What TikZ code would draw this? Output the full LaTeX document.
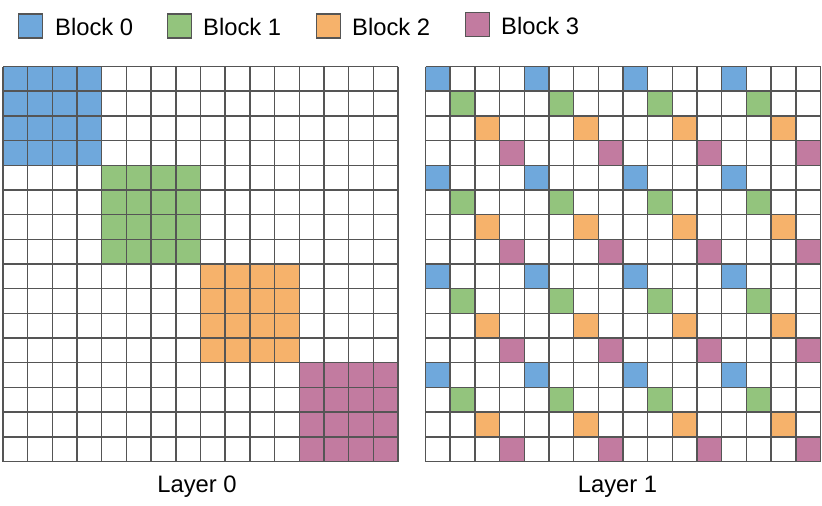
\documentclass[tikz,border=0pt]{standalone}
\usepackage{fontspec}
\setmainfont{Liberation Sans}
\definecolor{cA}{HTML}{6FA8DC}
\definecolor{cB}{HTML}{93C47D}
\definecolor{cC}{HTML}{F6B26B}
\definecolor{cD}{HTML}{C27BA0}
\definecolor{gridc}{HTML}{555555}
\begin{document}
\begin{tikzpicture}[x=1pt,y=-1pt,
  gridline/.style={draw=gridc,line width=1.4pt},
  legbox/.style={draw=gridc,line width=1.4pt,minimum width=24pt,minimum height=24pt,inner sep=0pt},
  legtext/.style={anchor=base west,font=\fontsize{23.8}{27}\selectfont,inner sep=0pt},
  caption/.style={anchor=base,font=\fontsize{23.8}{27}\selectfont,inner sep=0pt}]
\useasboundingbox (0,0) rectangle (822,506);
\def\cs{24.6875}
% legend
\node[legbox,fill=cA] (l0) at (30.5,26) {};
\node[legtext] (t0) at (55,35.5) {Block 0};
\node[legbox,fill=cB] (l1) at (179.5,26) {};
\node[legtext] (t1) at (203,35.5) {Block 1};
\node[legbox,fill=cC] (l2) at (328.5,26) {};
\node[legtext] (t2) at (352,35.5) {Block 2};
\node[legbox,fill=cD] (l3) at (477.5,24.5) {};
\node[legtext] (t3) at (501,34.5) {Block 3};
% layer 0
\begin{scope}[shift={(3,66.5)}]
\foreach \b/\c in {0/cA,1/cB,2/cC,3/cD}
  \fill[\c] ({4*\b*\cs},{4*\b*\cs}) rectangle ({(4*\b+4)*\cs},{(4*\b+4)*\cs});
\foreach \i in {0,...,16}{
  \draw[gridline] ({\i*\cs},0) -- ({\i*\cs},{16*\cs});
  \draw[gridline] (0,{\i*\cs}) -- ({16*\cs},{\i*\cs});
}
\end{scope}
% layer 1
\begin{scope}[shift={(425.5,66.5)}]
\foreach \r in {0,...,15}{
  \foreach \k in {0,...,3}{
    \pgfmathtruncatemacro{\m}{mod(\r,4)}
    \pgfmathtruncatemacro{\cc}{\m+4*\k}
    \ifcase\m \def\col{cA}\or \def\col{cB}\or \def\col{cC}\or \def\col{cD}\fi
    \fill[\col] ({\cc*\cs},{\r*\cs}) rectangle ({(\cc+1)*\cs},{(\r+1)*\cs});
  }
}
\foreach \i in {0,...,16}{
  \draw[gridline] ({\i*\cs},0) -- ({\i*\cs},{16*\cs});
  \draw[gridline] (0,{\i*\cs}) -- ({16*\cs},{\i*\cs});
}
\end{scope}
\node[caption] (c0) at (197,492) {Layer 0};
\node[caption] (c1) at (617.5,492) {Layer 1};
\end{tikzpicture}
\end{document}
